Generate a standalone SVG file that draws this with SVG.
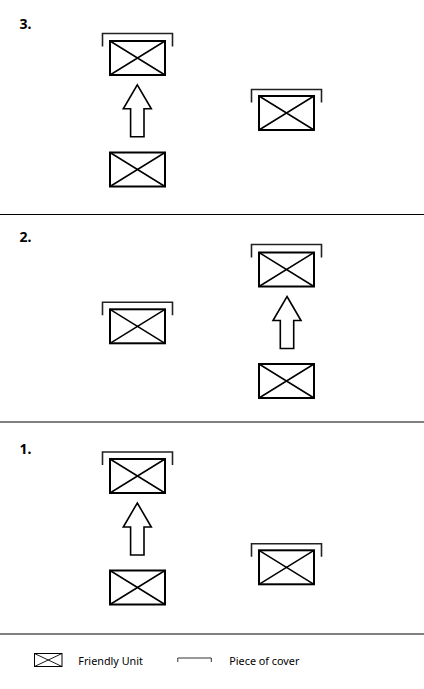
<svg xmlns="http://www.w3.org/2000/svg" xmlns:xlink="http://www.w3.org/1999/xlink" width="424" height="689" viewBox="0 0 424 689">
<style>
.box{fill:#fff;stroke:#000;stroke-width:2}
.diag{stroke:#000;stroke-width:1.5;fill:none}
.cover{fill:none;stroke:#222;stroke-width:1.6}
.arrow{fill:#fff;stroke:#000;stroke-width:1.6;stroke-linejoin:miter}
.sep{stroke:#000;stroke-width:1}
.num{font-family:"Noto Sans","DejaVu Sans",sans-serif;font-weight:bold;font-size:14px;fill:#000}
.leg{font-family:"Noto Sans","DejaVu Sans",sans-serif;font-size:10.8px;fill:#000}
</style>
<defs>
<g id="unit">
<rect class="box" x="1" y="1" width="55" height="34"/>
<path class="diag" d="M1 1 L56 35 M56 1 L1 35"/>
</g>
<path id="cov" class="cover" d="M-6.5 13.5 V0.5 H63.5 V13.5"/>
<path id="arr" class="arrow" d="M0 0 L14 24 L6.7 24 L6.7 52 L-6.7 52 L-6.7 24 L-14 24 Z"/>
</defs>

<g id="separators">
<line class="sep" x1="0" y1="214.5" x2="424" y2="214.5"/>
<line class="sep" x1="0" y1="422" x2="424" y2="422"/>
<line class="sep" x1="0" y1="634" x2="424" y2="634"/>
</g>

<text class="num" x="19.5" y="28.5">3.</text>
<text class="num" x="19.5" y="242">2.</text>
<text class="num" x="19.5" y="453.5">1.</text>

<!-- Panel 3 -->
<g id="p3-unit-top" transform="translate(109,40)"><use xlink:href="#cov" y="-7"/><use xlink:href="#unit"/></g>
<g id="p3-unit-bottom" transform="translate(109,151.5)"><use xlink:href="#unit"/></g>
<g id="p3-unit-right" transform="translate(258,95)"><use xlink:href="#cov" y="-6"/><use xlink:href="#unit"/></g>

<!-- Panel 2 -->
<g id="p2-unit-left" transform="translate(109,308.3)"><use xlink:href="#cov" y="-6.5"/><use xlink:href="#unit"/></g>
<g id="p2-unit-top" transform="translate(258,251.5)"><use xlink:href="#cov" y="-7.5"/><use xlink:href="#unit"/></g>
<g id="p2-unit-bottom" transform="translate(258,363)"><use xlink:href="#unit"/></g>

<!-- Panel 1 -->
<g id="p1-unit-top" transform="translate(109,458)"><use xlink:href="#cov" y="-6.5"/><use xlink:href="#unit"/></g>
<g id="p1-unit-bottom" transform="translate(109,569.5)"><use xlink:href="#unit"/></g>
<g id="p1-unit-right" transform="translate(258,549.3)"><use xlink:href="#cov" y="-6"/><use xlink:href="#unit"/></g>

<g id="connectors">
<use xlink:href="#arr" x="137.3" y="84.8"/>
<use xlink:href="#arr" x="287" y="296.5"/>
<use xlink:href="#arr" x="137.3" y="503"/>
</g>

<g id="legend">
<g id="legend-unit">
<rect x="34.5" y="653.5" width="27.5" height="13" fill="#fff" stroke="#000" stroke-width="1"/>
<path d="M34.5 653.5 L62 666.5 M62 653.5 L34.5 666.5" stroke="#000" stroke-width="0.9" fill="none"/>
<text class="leg" x="78.3" y="664.5">Friendly Unit</text>
</g>
<g id="legend-cover">
<path d="M177.8 662 V658 H211.3 V662" fill="none" stroke="#333" stroke-width="1"/>
<text class="leg" x="229.3" y="664.5">Piece of cover</text>
</g>
</g>
</svg>
